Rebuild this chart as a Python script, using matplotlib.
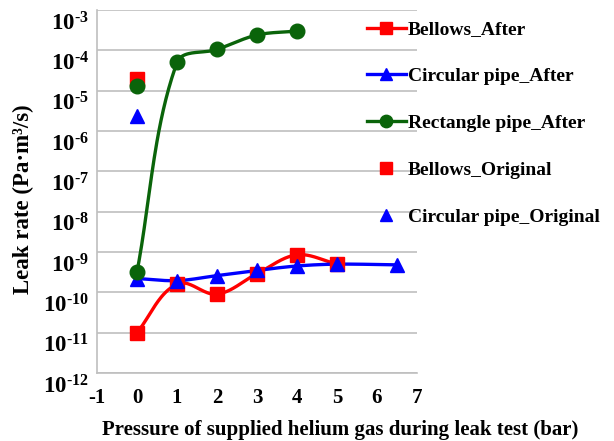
import numpy as np
import matplotlib
matplotlib.use("Agg")
import matplotlib.pyplot as plt
import matplotlib.transforms as mtransforms
from matplotlib.ticker import FixedLocator, FuncFormatter

plt.rcParams['font.family'] = ['Liberation Serif', 'DejaVu Serif']
plt.rcParams['font.weight'] = 'bold'
plt.rcParams['axes.unicode_minus'] = False
plt.rcParams['mathtext.fontset'] = 'custom'
plt.rcParams['mathtext.rm'] = 'Liberation Serif:bold'
plt.rcParams['mathtext.bf'] = 'Liberation Serif:bold'
plt.rcParams['mathtext.it'] = 'Liberation Serif:bold:italic'

# Data
bellows_after_x = [0, 1, 2, 3, 4, 5]
bellows_after_y = [1.0e-11, 1.6e-10, 0.9e-10, 2.9e-10, 8.5e-10, 5.0e-10]
circ_after_x = [0, 1, 2, 3, 4, 5, 6.5]
circ_after_y = [2.2e-10, 1.95e-10, 2.6e-10, 3.5e-10, 4.5e-10, 5.0e-10, 4.8e-10]
rect_after_x = [0, 1, 2, 3, 4]
rect_after_y = [3.2e-10, 5.0e-5, 1.05e-4, 2.4e-4, 3.0e-4]
bellows_orig_x = [0]
bellows_orig_y = [2.0e-5]
circ_orig_x = [0]
circ_orig_y = [2.4e-6]
rect_orig_x = [0]
rect_orig_y = [1.3e-5]

labels = ['Bellows_After', 'Circular pipe_After', 'Rectangle pipe_After',
          'Bellows_Original', 'Circular pipe_Original']
x_ticks = list(range(-1, 8))
y_exponents = list(range(-12, -2))
red = '#FF0000'
blue = '#0000FF'
green = '#0A640A'


def smooth(xs, ys, n=40):
    """Excel-like smoothed line in (x, log10 y) space (isotropic on this chart)."""
    x = np.asarray(xs, float)
    y = np.log10(np.asarray(ys, float))
    P = np.column_stack([x, y])
    out = []
    for i in range(len(P) - 1):
        p0 = P[i - 1] if i > 0 else P[i]
        p1 = P[i]
        p2 = P[i + 1]
        p3 = P[i + 2] if i + 2 < len(P) else P[i + 1]
        d = np.linalg.norm(p2 - p1)
        t1 = p2 - p0
        t2 = p3 - p1
        t1 = t1 / np.linalg.norm(t1) if np.linalg.norm(t1) > 0 else t1
        t2 = t2 / np.linalg.norm(t2) if np.linalg.norm(t2) > 0 else t2
        c1 = p1 + t1 * d / 3.0
        c2 = p2 - t2 * d / 3.0
        t = np.linspace(0, 1, n)[:, None]
        seg = ((1 - t) ** 3) * p1 + 3 * ((1 - t) ** 2) * t * c1 + 3 * (1 - t) * t ** 2 * c2 + t ** 3 * p2
        out.append(seg if i == 0 else seg[1:])
    S = np.vstack(out)
    return S[:, 0], 10 ** S[:, 1]


fig = plt.figure(figsize=(6.14, 4.41), dpi=100)
ax = fig.add_axes([97 / 614, 1 - 373 / 441, 320 / 614, 363 / 441])

lw = 2.4
ms = 10.5

for xs, ys, c, m, lab in [
    (bellows_after_x, bellows_after_y, red, 's', labels[0]),
    (circ_after_x, circ_after_y, blue, '^', labels[1]),
    (rect_after_x, rect_after_y, green, 'o', labels[2]),
]:
    sx, sy = smooth(xs, ys)
    ax.plot(sx, sy, color=c, lw=lw, zorder=3)
    ax.plot(xs, ys, linestyle='none', marker=m, color=c, ms=ms, zorder=4)
    ax.plot([], [], color=c, lw=lw, marker=m, ms=ms * 0.85, label=lab)

ax.plot(bellows_orig_x, bellows_orig_y, linestyle='none', marker='s', color=red, ms=ms, zorder=4)
ax.plot([], [], linestyle='none', marker='s', color=red, ms=ms * 0.85, label=labels[3])
ax.plot(rect_orig_x, rect_orig_y, linestyle='none', marker='o', color=green, ms=ms, zorder=5)
ax.plot(circ_orig_x, circ_orig_y, linestyle='none', marker='^', color=blue, ms=ms, zorder=4)
ax.plot([], [], linestyle='none', marker='^', color=blue, ms=ms * 0.85, label=labels[4])

ax.set_yscale('log')
ax.set_ylim(1e-12, 1e-3)
ax.set_xlim(-1, 7)
ax.xaxis.set_major_locator(FixedLocator(x_ticks))
ax.yaxis.set_major_locator(FixedLocator([10.0 ** k for k in y_exponents]))
ax.yaxis.set_minor_locator(FixedLocator([]))
ax.yaxis.set_major_formatter(
    FuncFormatter(lambda v, p: r'$\mathbf{10^{\text{-%d}}}$' % abs(int(round(np.log10(v))))))
ax.tick_params(axis='y', length=0, labelsize=16.5, pad=6)
ax.tick_params(axis='x', length=0, labelsize=15, pad=11)
for t in ax.get_xticklabels():
    t.set_fontweight('bold')
offset = mtransforms.ScaledTranslation(0, -11 / 100, fig.dpi_scale_trans)
for t in ax.get_yticklabels():
    t.set_transform(t.get_transform() + offset)

ax.grid(axis='y', color='#BFBFBF', lw=1.2)
ax.set_axisbelow(True)
for s in ['top', 'right']:
    ax.spines[s].set_visible(False)
for s in ['left', 'bottom']:
    ax.spines[s].set_color('#BFBFBF')
    ax.spines[s].set_linewidth(1.2)

fig.text(340 / 614, 1 - 430 / 441, 'Pressure of supplied helium gas during leak test (bar)',
         fontsize=15, fontweight='bold', ha='center', va='center')
fig.text(23 / 614, 1 - 199 / 441, 'Leak rate (Pa\u00b7m\u00b3/s)', fontsize=16.5,
         fontweight='bold', ha='center', va='center', rotation=90)

leg = fig.legend(loc='upper left', bbox_to_anchor=(359 / 614, 1 - 13 / 441), frameon=False,
                 fontsize=14, labelspacing=1.5, handlelength=2.0, handletextpad=0.1,
                 borderaxespad=0)

fig.savefig('out.png', dpi=100)
